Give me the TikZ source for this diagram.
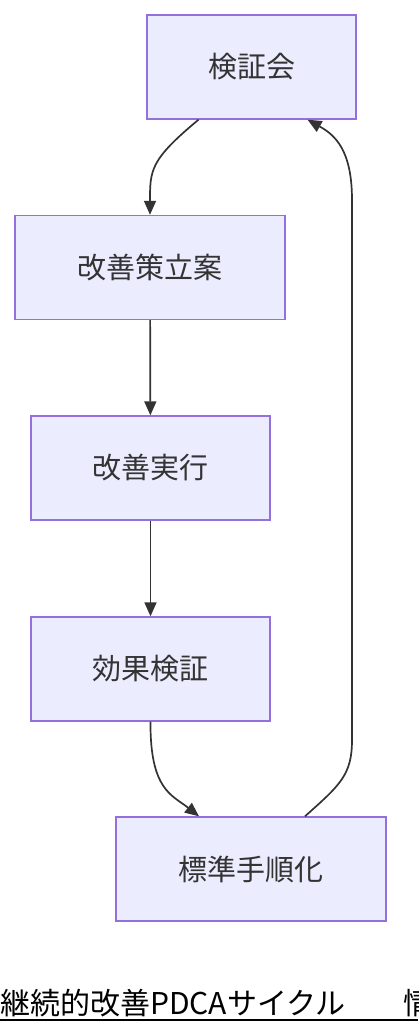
\documentclass[tikz,border=0pt]{standalone}
\usepackage{fontspec}
\setmainfont{Noto Sans CJK JP}
\usetikzlibrary{arrows.meta}
\definecolor{boxfill}{HTML}{ECECFF}
\definecolor{boxline}{HTML}{9370DB}
\definecolor{ink}{HTML}{333333}
\tikzset{
  stepbox/.style={draw=boxline, fill=boxfill, line width=1.4pt, minimum height=104pt, text=ink, font=\fontsize{29}{33}\selectfont},
  flow/.style={draw=ink, line width=1.7pt, -{Triangle[length=14pt,width=12pt]}}
}
\begin{document}
\begin{tikzpicture}[x=1pt, y=-1pt]
            \clip (0, 0) rectangle (418, 1036);
            \node[stepbox, minimum width=209pt] (review) at (251.5, 67) {検証会};
            \node[stepbox, minimum width=270pt] (plan) at (150, 267.5) {改善策立案};
            \node[stepbox, minimum width=239pt] (act) at (150.5, 468) {改善実行};
            \node[stepbox, minimum width=239pt] (check) at (150.5, 669) {効果検証};
            \node[stepbox, minimum width=270pt] (std) at (251, 869) {標準手順化};
            \draw[flow] ([xshift=-53pt]review.south) .. controls (150, 160) and (150, 170) .. (plan.north);
            \draw[flow] (plan) -- (act);
            \draw[flow] (act) -- (check);
            \draw[flow] (check.south) .. controls (150, 790) and (172, 795) .. ([xshift=-52pt]std.north);
            \draw[flow] ([xshift=54pt]std.north) .. controls (340, 785) and (352, 775) .. (352, 740) -- (352, 200) .. controls (352, 150) and (335, 135) .. ([xshift=56pt]review.south);
            % caption, cut at the right edge as in the original
            \node[anchor=base west, inner sep=0pt, font=\fontsize{30}{34}\selectfont] (title) at (0, 1014) {継続的改善PDCAサイクル};
            \node[anchor=base west, inner sep=0pt, font=\fontsize{30}{34}\selectfont] (title2) at (403, 1014) {情};
            \draw[line width=1.6pt] (title.west |- 0, 1020) -- (418, 1020);
        \end{tikzpicture}
\end{document}
